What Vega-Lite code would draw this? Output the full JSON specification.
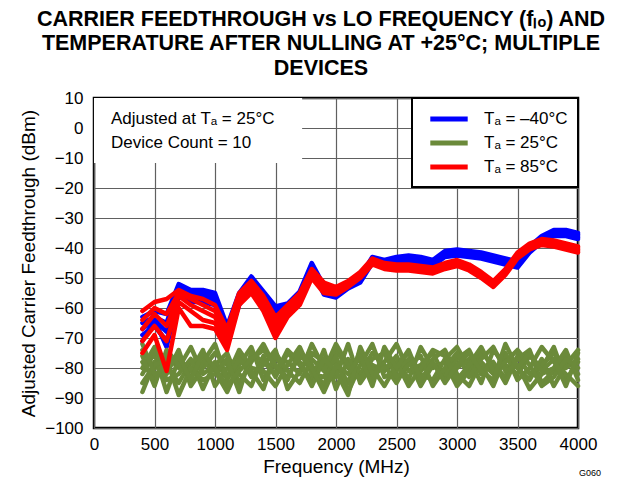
{
"$schema":"https://vega.github.io/schema/vega-lite/v6.json",
"width":484,"height":330,
"autosize":{"type":"none"},
"padding":{"left":94,"top":98,"right":46,"bottom":52},
"background":"white",
"config":{"font":"Liberation Sans","view":{"stroke":"black","strokeWidth":2.5},
"axis":{"labelFont":"Liberation Sans","titleFont":"Liberation Sans","labelFontSize":17,"titleFontSize":19,"titleFontWeight":"normal","labelColor":"black","titleColor":"black","domain":false,"ticks":false,"grid":true,"gridColor":"#606060","gridWidth":1.2,"gridOpacity":1,"labelOverlap":false,"labelBound":false,"labelFlush":false},
"axisX":{"tickCount":9,"labelPadding":8,"titlePadding":5,"format":"d"},
"axisY":{"tickCount":12,"labelPadding":11,"titlePadding":6}},
"title":{"text":["CARRIER FEEDTHROUGH vs LO FREQUENCY (fₗₒ) AND","TEMPERATURE AFTER NULLING AT +25°C; MULTIPLE","DEVICES"],"font":"Liberation Sans","fontSize":21.5,"fontWeight":"bold","lineHeight":24.5,"anchor":"middle","frame":"group","dx":-15,"offset":10,"color":"black"},
"data":{"values":[
{"f":400,"t":"-40","d":"b1","v":-63},{"f":500,"t":"-40","d":"b1","v":-61},{"f":600,"t":"-40","d":"b1","v":-62},{"f":700,"t":"-40","d":"b1","v":-52},{"f":800,"t":"-40","d":"b1","v":-54},{"f":900,"t":"-40","d":"b1","v":-54},{"f":1000,"t":"-40","d":"b1","v":-55},{"f":1100,"t":"-40","d":"b1","v":-66},{"f":1200,"t":"-40","d":"b1","v":-55},{"f":1300,"t":"-40","d":"b1","v":-49.5},{"f":1400,"t":"-40","d":"b1","v":-54.5},{"f":1500,"t":"-40","d":"b1","v":-59.5},{"f":1600,"t":"-40","d":"b1","v":-58.5},{"f":1700,"t":"-40","d":"b1","v":-54.5},{"f":1800,"t":"-40","d":"b1","v":-45},{"f":1900,"t":"-40","d":"b1","v":-52.5},{"f":2000,"t":"-40","d":"b1","v":-53.5},{"f":2100,"t":"-40","d":"b1","v":-51.5},{"f":2200,"t":"-40","d":"b1","v":-49.5},{"f":2300,"t":"-40","d":"b1","v":-43},{"f":2400,"t":"-40","d":"b1","v":-44},{"f":2500,"t":"-40","d":"b1","v":-43},{"f":2600,"t":"-40","d":"b1","v":-42.5},{"f":2700,"t":"-40","d":"b1","v":-43},{"f":2800,"t":"-40","d":"b1","v":-44},{"f":2900,"t":"-40","d":"b1","v":-41},{"f":3000,"t":"-40","d":"b1","v":-40.5},{"f":3100,"t":"-40","d":"b1","v":-41},{"f":3200,"t":"-40","d":"b1","v":-41.5},{"f":3300,"t":"-40","d":"b1","v":-42.5},{"f":3400,"t":"-40","d":"b1","v":-43.5},{"f":3500,"t":"-40","d":"b1","v":-44.5},{"f":3600,"t":"-40","d":"b1","v":-39.5},{"f":3700,"t":"-40","d":"b1","v":-36},{"f":3800,"t":"-40","d":"b1","v":-34},{"f":3900,"t":"-40","d":"b1","v":-34},{"f":4000,"t":"-40","d":"b1","v":-35},
{"f":400,"t":"-40","d":"b2","v":-65},{"f":500,"t":"-40","d":"b2","v":-63},{"f":600,"t":"-40","d":"b2","v":-65},{"f":700,"t":"-40","d":"b2","v":-53},{"f":800,"t":"-40","d":"b2","v":-55},{"f":900,"t":"-40","d":"b2","v":-55},{"f":1000,"t":"-40","d":"b2","v":-56},{"f":1100,"t":"-40","d":"b2","v":-68},{"f":1200,"t":"-40","d":"b2","v":-56},{"f":1300,"t":"-40","d":"b2","v":-50.5},{"f":1400,"t":"-40","d":"b2","v":-55.5},{"f":1500,"t":"-40","d":"b2","v":-60.5},{"f":1600,"t":"-40","d":"b2","v":-59.5},{"f":1700,"t":"-40","d":"b2","v":-55.5},{"f":1800,"t":"-40","d":"b2","v":-45.5},{"f":1900,"t":"-40","d":"b2","v":-53.5},{"f":2000,"t":"-40","d":"b2","v":-54.5},{"f":2100,"t":"-40","d":"b2","v":-52},{"f":2200,"t":"-40","d":"b2","v":-50},{"f":2300,"t":"-40","d":"b2","v":-43.5},{"f":2400,"t":"-40","d":"b2","v":-44.5},{"f":2500,"t":"-40","d":"b2","v":-43.5},{"f":2600,"t":"-40","d":"b2","v":-43},{"f":2700,"t":"-40","d":"b2","v":-43.5},{"f":2800,"t":"-40","d":"b2","v":-44.5},{"f":2900,"t":"-40","d":"b2","v":-41.5},{"f":3000,"t":"-40","d":"b2","v":-41},{"f":3100,"t":"-40","d":"b2","v":-41.5},{"f":3200,"t":"-40","d":"b2","v":-42},{"f":3300,"t":"-40","d":"b2","v":-43},{"f":3400,"t":"-40","d":"b2","v":-44},{"f":3500,"t":"-40","d":"b2","v":-45},{"f":3600,"t":"-40","d":"b2","v":-40},{"f":3700,"t":"-40","d":"b2","v":-36.5},{"f":3800,"t":"-40","d":"b2","v":-34.5},{"f":3900,"t":"-40","d":"b2","v":-34.5},{"f":4000,"t":"-40","d":"b2","v":-35.5},
{"f":400,"t":"-40","d":"b3","v":-67},{"f":500,"t":"-40","d":"b3","v":-64},{"f":600,"t":"-40","d":"b3","v":-68},{"f":700,"t":"-40","d":"b3","v":-54},{"f":800,"t":"-40","d":"b3","v":-56},{"f":900,"t":"-40","d":"b3","v":-56},{"f":1000,"t":"-40","d":"b3","v":-57},{"f":1100,"t":"-40","d":"b3","v":-69},{"f":1200,"t":"-40","d":"b3","v":-57},{"f":1300,"t":"-40","d":"b3","v":-51},{"f":1400,"t":"-40","d":"b3","v":-56},{"f":1500,"t":"-40","d":"b3","v":-61},{"f":1600,"t":"-40","d":"b3","v":-60},{"f":1700,"t":"-40","d":"b3","v":-56},{"f":1800,"t":"-40","d":"b3","v":-46},{"f":1900,"t":"-40","d":"b3","v":-54},{"f":2000,"t":"-40","d":"b3","v":-55},{"f":2100,"t":"-40","d":"b3","v":-52.5},{"f":2200,"t":"-40","d":"b3","v":-50.5},{"f":2300,"t":"-40","d":"b3","v":-44},{"f":2400,"t":"-40","d":"b3","v":-45},{"f":2500,"t":"-40","d":"b3","v":-44},{"f":2600,"t":"-40","d":"b3","v":-43.5},{"f":2700,"t":"-40","d":"b3","v":-44},{"f":2800,"t":"-40","d":"b3","v":-45},{"f":2900,"t":"-40","d":"b3","v":-42},{"f":3000,"t":"-40","d":"b3","v":-41.5},{"f":3100,"t":"-40","d":"b3","v":-42},{"f":3200,"t":"-40","d":"b3","v":-42.5},{"f":3300,"t":"-40","d":"b3","v":-43.5},{"f":3400,"t":"-40","d":"b3","v":-44.5},{"f":3500,"t":"-40","d":"b3","v":-45.5},{"f":3600,"t":"-40","d":"b3","v":-40.5},{"f":3700,"t":"-40","d":"b3","v":-37},{"f":3800,"t":"-40","d":"b3","v":-35},{"f":3900,"t":"-40","d":"b3","v":-35},{"f":4000,"t":"-40","d":"b3","v":-36},
{"f":400,"t":"-40","d":"b4","v":-69},{"f":500,"t":"-40","d":"b4","v":-66},{"f":600,"t":"-40","d":"b4","v":-71},{"f":700,"t":"-40","d":"b4","v":-55},{"f":800,"t":"-40","d":"b4","v":-57},{"f":900,"t":"-40","d":"b4","v":-57},{"f":1000,"t":"-40","d":"b4","v":-58},{"f":1100,"t":"-40","d":"b4","v":-70},{"f":1200,"t":"-40","d":"b4","v":-58},{"f":1300,"t":"-40","d":"b4","v":-51.5},{"f":1400,"t":"-40","d":"b4","v":-56.5},{"f":1500,"t":"-40","d":"b4","v":-61.5},{"f":1600,"t":"-40","d":"b4","v":-60.5},{"f":1700,"t":"-40","d":"b4","v":-56.5},{"f":1800,"t":"-40","d":"b4","v":-46.5},{"f":1900,"t":"-40","d":"b4","v":-54.5},{"f":2000,"t":"-40","d":"b4","v":-55.5},{"f":2100,"t":"-40","d":"b4","v":-53},{"f":2200,"t":"-40","d":"b4","v":-51},{"f":2300,"t":"-40","d":"b4","v":-44.5},{"f":2400,"t":"-40","d":"b4","v":-45.5},{"f":2500,"t":"-40","d":"b4","v":-44.5},{"f":2600,"t":"-40","d":"b4","v":-44},{"f":2700,"t":"-40","d":"b4","v":-44.5},{"f":2800,"t":"-40","d":"b4","v":-45.5},{"f":2900,"t":"-40","d":"b4","v":-42.5},{"f":3000,"t":"-40","d":"b4","v":-42},{"f":3100,"t":"-40","d":"b4","v":-42.5},{"f":3200,"t":"-40","d":"b4","v":-43},{"f":3300,"t":"-40","d":"b4","v":-44},{"f":3400,"t":"-40","d":"b4","v":-45},{"f":3500,"t":"-40","d":"b4","v":-46},{"f":3600,"t":"-40","d":"b4","v":-41},{"f":3700,"t":"-40","d":"b4","v":-37.5},{"f":3800,"t":"-40","d":"b4","v":-35.5},{"f":3900,"t":"-40","d":"b4","v":-35.5},{"f":4000,"t":"-40","d":"b4","v":-36.5},
{"f":400,"t":"-40","d":"b5","v":-71},{"f":500,"t":"-40","d":"b5","v":-64},{"f":600,"t":"-40","d":"b5","v":-73},{"f":700,"t":"-40","d":"b5","v":-56},{"f":800,"t":"-40","d":"b5","v":-58},{"f":900,"t":"-40","d":"b5","v":-58},{"f":1000,"t":"-40","d":"b5","v":-59},{"f":1100,"t":"-40","d":"b5","v":-71},{"f":1200,"t":"-40","d":"b5","v":-59},{"f":1300,"t":"-40","d":"b5","v":-52.5},{"f":1400,"t":"-40","d":"b5","v":-57.5},{"f":1500,"t":"-40","d":"b5","v":-62.5},{"f":1600,"t":"-40","d":"b5","v":-61.5},{"f":1700,"t":"-40","d":"b5","v":-57.5},{"f":1800,"t":"-40","d":"b5","v":-47},{"f":1900,"t":"-40","d":"b5","v":-55.5},{"f":2000,"t":"-40","d":"b5","v":-56.5},{"f":2100,"t":"-40","d":"b5","v":-53.5},{"f":2200,"t":"-40","d":"b5","v":-51.5},{"f":2300,"t":"-40","d":"b5","v":-45},{"f":2400,"t":"-40","d":"b5","v":-46},{"f":2500,"t":"-40","d":"b5","v":-45},{"f":2600,"t":"-40","d":"b5","v":-44.5},{"f":2700,"t":"-40","d":"b5","v":-45},{"f":2800,"t":"-40","d":"b5","v":-46},{"f":2900,"t":"-40","d":"b5","v":-43},{"f":3000,"t":"-40","d":"b5","v":-42.5},{"f":3100,"t":"-40","d":"b5","v":-43},{"f":3200,"t":"-40","d":"b5","v":-43.5},{"f":3300,"t":"-40","d":"b5","v":-44.5},{"f":3400,"t":"-40","d":"b5","v":-45.5},{"f":3500,"t":"-40","d":"b5","v":-46.5},{"f":3600,"t":"-40","d":"b5","v":-41.5},{"f":3700,"t":"-40","d":"b5","v":-38},{"f":3800,"t":"-40","d":"b5","v":-36},{"f":3900,"t":"-40","d":"b5","v":-36},{"f":4000,"t":"-40","d":"b5","v":-37},
{"f":400,"t":"25","d":"g1","v":-78},{"f":500,"t":"25","d":"g1","v":-84},{"f":600,"t":"25","d":"g1","v":-76},{"f":700,"t":"25","d":"g1","v":-80},{"f":800,"t":"25","d":"g1","v":-73},{"f":900,"t":"25","d":"g1","v":-82},{"f":1000,"t":"25","d":"g1","v":-79},{"f":1100,"t":"25","d":"g1","v":-75},{"f":1200,"t":"25","d":"g1","v":-85},{"f":1300,"t":"25","d":"g1","v":-78},{"f":1400,"t":"25","d":"g1","v":-72},{"f":1500,"t":"25","d":"g1","v":-80},{"f":1600,"t":"25","d":"g1","v":-83},{"f":1700,"t":"25","d":"g1","v":-76},{"f":1800,"t":"25","d":"g1","v":-79},{"f":1900,"t":"25","d":"g1","v":-86},{"f":2000,"t":"25","d":"g1","v":-74},{"f":2100,"t":"25","d":"g1","v":-80},{"f":2200,"t":"25","d":"g1","v":-77},{"f":2300,"t":"25","d":"g1","v":-84},{"f":2400,"t":"25","d":"g1","v":-78},{"f":2500,"t":"25","d":"g1","v":-72},{"f":2600,"t":"25","d":"g1","v":-81},{"f":2700,"t":"25","d":"g1","v":-79},{"f":2800,"t":"25","d":"g1","v":-75},{"f":2900,"t":"25","d":"g1","v":-83},{"f":3000,"t":"25","d":"g1","v":-80},{"f":3100,"t":"25","d":"g1","v":-77},{"f":3200,"t":"25","d":"g1","v":-85},{"f":3300,"t":"25","d":"g1","v":-74},{"f":3400,"t":"25","d":"g1","v":-79},{"f":3500,"t":"25","d":"g1","v":-82},{"f":3600,"t":"25","d":"g1","v":-76},{"f":3700,"t":"25","d":"g1","v":-80},{"f":3800,"t":"25","d":"g1","v":-73},{"f":3900,"t":"25","d":"g1","v":-84},{"f":4000,"t":"25","d":"g1","v":-78},
{"f":400,"t":"25","d":"g2","v":-82},{"f":500,"t":"25","d":"g2","v":-75},{"f":600,"t":"25","d":"g2","v":-88},{"f":700,"t":"25","d":"g2","v":-77},{"f":800,"t":"25","d":"g2","v":-81},{"f":900,"t":"25","d":"g2","v":-74},{"f":1000,"t":"25","d":"g2","v":-86},{"f":1100,"t":"25","d":"g2","v":-80},{"f":1200,"t":"25","d":"g2","v":-76},{"f":1300,"t":"25","d":"g2","v":-83},{"f":1400,"t":"25","d":"g2","v":-79},{"f":1500,"t":"25","d":"g2","v":-74},{"f":1600,"t":"25","d":"g2","v":-87},{"f":1700,"t":"25","d":"g2","v":-81},{"f":1800,"t":"25","d":"g2","v":-75},{"f":1900,"t":"25","d":"g2","v":-78},{"f":2000,"t":"25","d":"g2","v":-83},{"f":2100,"t":"25","d":"g2","v":-72},{"f":2200,"t":"25","d":"g2","v":-85},{"f":2300,"t":"25","d":"g2","v":-79},{"f":2400,"t":"25","d":"g2","v":-81},{"f":2500,"t":"25","d":"g2","v":-76},{"f":2600,"t":"25","d":"g2","v":-84},{"f":2700,"t":"25","d":"g2","v":-73},{"f":2800,"t":"25","d":"g2","v":-80},{"f":2900,"t":"25","d":"g2","v":-78},{"f":3000,"t":"25","d":"g2","v":-86},{"f":3100,"t":"25","d":"g2","v":-81},{"f":3200,"t":"25","d":"g2","v":-75},{"f":3300,"t":"25","d":"g2","v":-79},{"f":3400,"t":"25","d":"g2","v":-83},{"f":3500,"t":"25","d":"g2","v":-77},{"f":3600,"t":"25","d":"g2","v":-74},{"f":3700,"t":"25","d":"g2","v":-85},{"f":3800,"t":"25","d":"g2","v":-81},{"f":3900,"t":"25","d":"g2","v":-76},{"f":4000,"t":"25","d":"g2","v":-82},
{"f":400,"t":"25","d":"g3","v":-74},{"f":500,"t":"25","d":"g3","v":-80},{"f":600,"t":"25","d":"g3","v":-79},{"f":700,"t":"25","d":"g3","v":-85},{"f":800,"t":"25","d":"g3","v":-78},{"f":900,"t":"25","d":"g3","v":-76},{"f":1000,"t":"25","d":"g3","v":-81},{"f":1100,"t":"25","d":"g3","v":-88},{"f":1200,"t":"25","d":"g3","v":-79},{"f":1300,"t":"25","d":"g3","v":-73},{"f":1400,"t":"25","d":"g3","v":-84},{"f":1500,"t":"25","d":"g3","v":-77},{"f":1600,"t":"25","d":"g3","v":-78},{"f":1700,"t":"25","d":"g3","v":-82},{"f":1800,"t":"25","d":"g3","v":-72},{"f":1900,"t":"25","d":"g3","v":-80},{"f":2000,"t":"25","d":"g3","v":-78},{"f":2100,"t":"25","d":"g3","v":-85},{"f":2200,"t":"25","d":"g3","v":-74},{"f":2300,"t":"25","d":"g3","v":-80},{"f":2400,"t":"25","d":"g3","v":-86},{"f":2500,"t":"25","d":"g3","v":-79},{"f":2600,"t":"25","d":"g3","v":-75},{"f":2700,"t":"25","d":"g3","v":-82},{"f":2800,"t":"25","d":"g3","v":-84},{"f":2900,"t":"25","d":"g3","v":-77},{"f":3000,"t":"25","d":"g3","v":-73},{"f":3100,"t":"25","d":"g3","v":-80},{"f":3200,"t":"25","d":"g3","v":-79},{"f":3300,"t":"25","d":"g3","v":-86},{"f":3400,"t":"25","d":"g3","v":-76},{"f":3500,"t":"25","d":"g3","v":-80},{"f":3600,"t":"25","d":"g3","v":-84},{"f":3700,"t":"25","d":"g3","v":-77},{"f":3800,"t":"25","d":"g3","v":-86},{"f":3900,"t":"25","d":"g3","v":-79},{"f":4000,"t":"25","d":"g3","v":-74},
{"f":400,"t":"25","d":"g4","v":-88},{"f":500,"t":"25","d":"g4","v":-78},{"f":600,"t":"25","d":"g4","v":-82},{"f":700,"t":"25","d":"g4","v":-74},{"f":800,"t":"25","d":"g4","v":-86},{"f":900,"t":"25","d":"g4","v":-80},{"f":1000,"t":"25","d":"g4","v":-75},{"f":1100,"t":"25","d":"g4","v":-79},{"f":1200,"t":"25","d":"g4","v":-82},{"f":1300,"t":"25","d":"g4","v":-86},{"f":1400,"t":"25","d":"g4","v":-76},{"f":1500,"t":"25","d":"g4","v":-83},{"f":1600,"t":"25","d":"g4","v":-75},{"f":1700,"t":"25","d":"g4","v":-79},{"f":1800,"t":"25","d":"g4","v":-84},{"f":1900,"t":"25","d":"g4","v":-74},{"f":2000,"t":"25","d":"g4","v":-87},{"f":2100,"t":"25","d":"g4","v":-77},{"f":2200,"t":"25","d":"g4","v":-82},{"f":2300,"t":"25","d":"g4","v":-75},{"f":2400,"t":"25","d":"g4","v":-79},{"f":2500,"t":"25","d":"g4","v":-85},{"f":2600,"t":"25","d":"g4","v":-78},{"f":2700,"t":"25","d":"g4","v":-81},{"f":2800,"t":"25","d":"g4","v":-77},{"f":2900,"t":"25","d":"g4","v":-74},{"f":3000,"t":"25","d":"g4","v":-82},{"f":3100,"t":"25","d":"g4","v":-86},{"f":3200,"t":"25","d":"g4","v":-78},{"f":3300,"t":"25","d":"g4","v":-82},{"f":3400,"t":"25","d":"g4","v":-75},{"f":3500,"t":"25","d":"g4","v":-84},{"f":3600,"t":"25","d":"g4","v":-80},{"f":3700,"t":"25","d":"g4","v":-73},{"f":3800,"t":"25","d":"g4","v":-78},{"f":3900,"t":"25","d":"g4","v":-82},{"f":4000,"t":"25","d":"g4","v":-86},
{"f":400,"t":"25","d":"g5","v":-80},{"f":500,"t":"25","d":"g5","v":-73},{"f":600,"t":"25","d":"g5","v":-84},{"f":700,"t":"25","d":"g5","v":-82},{"f":800,"t":"25","d":"g5","v":-77},{"f":900,"t":"25","d":"g5","v":-87},{"f":1000,"t":"25","d":"g5","v":-78},{"f":1100,"t":"25","d":"g5","v":-83},{"f":1200,"t":"25","d":"g5","v":-74},{"f":1300,"t":"25","d":"g5","v":-80},{"f":1400,"t":"25","d":"g5","v":-81},{"f":1500,"t":"25","d":"g5","v":-86},{"f":1600,"t":"25","d":"g5","v":-79},{"f":1700,"t":"25","d":"g5","v":-73},{"f":1800,"t":"25","d":"g5","v":-82},{"f":1900,"t":"25","d":"g5","v":-83},{"f":2000,"t":"25","d":"g5","v":-76},{"f":2100,"t":"25","d":"g5","v":-88},{"f":2200,"t":"25","d":"g5","v":-79},{"f":2300,"t":"25","d":"g5","v":-72},{"f":2400,"t":"25","d":"g5","v":-83},{"f":2500,"t":"25","d":"g5","v":-81},{"f":2600,"t":"25","d":"g5","v":-77},{"f":2700,"t":"25","d":"g5","v":-86},{"f":2800,"t":"25","d":"g5","v":-79},{"f":2900,"t":"25","d":"g5","v":-82},{"f":3000,"t":"25","d":"g5","v":-77},{"f":3100,"t":"25","d":"g5","v":-74},{"f":3200,"t":"25","d":"g5","v":-82},{"f":3300,"t":"25","d":"g5","v":-78},{"f":3400,"t":"25","d":"g5","v":-85},{"f":3500,"t":"25","d":"g5","v":-76},{"f":3600,"t":"25","d":"g5","v":-82},{"f":3700,"t":"25","d":"g5","v":-79},{"f":3800,"t":"25","d":"g5","v":-75},{"f":3900,"t":"25","d":"g5","v":-80},{"f":4000,"t":"25","d":"g5","v":-77},
{"f":400,"t":"25","d":"g6","v":-76},{"f":500,"t":"25","d":"g6","v":-86},{"f":600,"t":"25","d":"g6","v":-74},{"f":700,"t":"25","d":"g6","v":-79},{"f":800,"t":"25","d":"g6","v":-83},{"f":900,"t":"25","d":"g6","v":-78},{"f":1000,"t":"25","d":"g6","v":-72},{"f":1100,"t":"25","d":"g6","v":-84},{"f":1200,"t":"25","d":"g6","v":-77},{"f":1300,"t":"25","d":"g6","v":-81},{"f":1400,"t":"25","d":"g6","v":-87},{"f":1500,"t":"25","d":"g6","v":-75},{"f":1600,"t":"25","d":"g6","v":-81},{"f":1700,"t":"25","d":"g6","v":-85},{"f":1800,"t":"25","d":"g6","v":-77},{"f":1900,"t":"25","d":"g6","v":-81},{"f":2000,"t":"25","d":"g6","v":-72},{"f":2100,"t":"25","d":"g6","v":-79},{"f":2200,"t":"25","d":"g6","v":-84},{"f":2300,"t":"25","d":"g6","v":-77},{"f":2400,"t":"25","d":"g6","v":-75},{"f":2500,"t":"25","d":"g6","v":-83},{"f":2600,"t":"25","d":"g6","v":-79},{"f":2700,"t":"25","d":"g6","v":-76},{"f":2800,"t":"25","d":"g6","v":-86},{"f":2900,"t":"25","d":"g6","v":-80},{"f":3000,"t":"25","d":"g6","v":-75},{"f":3100,"t":"25","d":"g6","v":-83},{"f":3200,"t":"25","d":"g6","v":-77},{"f":3300,"t":"25","d":"g6","v":-73},{"f":3400,"t":"25","d":"g6","v":-81},{"f":3500,"t":"25","d":"g6","v":-79},{"f":3600,"t":"25","d":"g6","v":-87},{"f":3700,"t":"25","d":"g6","v":-82},{"f":3800,"t":"25","d":"g6","v":-80},{"f":3900,"t":"25","d":"g6","v":-74},{"f":4000,"t":"25","d":"g6","v":-84},
{"f":400,"t":"25","d":"g7","v":-85},{"f":500,"t":"25","d":"g7","v":-79},{"f":600,"t":"25","d":"g7","v":-77},{"f":700,"t":"25","d":"g7","v":-89},{"f":800,"t":"25","d":"g7","v":-80},{"f":900,"t":"25","d":"g7","v":-84},{"f":1000,"t":"25","d":"g7","v":-82},{"f":1100,"t":"25","d":"g7","v":-77},{"f":1200,"t":"25","d":"g7","v":-88},{"f":1300,"t":"25","d":"g7","v":-75},{"f":1400,"t":"25","d":"g7","v":-78},{"f":1500,"t":"25","d":"g7","v":-82},{"f":1600,"t":"25","d":"g7","v":-74},{"f":1700,"t":"25","d":"g7","v":-78},{"f":1800,"t":"25","d":"g7","v":-86},{"f":1900,"t":"25","d":"g7","v":-77},{"f":2000,"t":"25","d":"g7","v":-81},{"f":2100,"t":"25","d":"g7","v":-89},{"f":2200,"t":"25","d":"g7","v":-73},{"f":2300,"t":"25","d":"g7","v":-82},{"f":2400,"t":"25","d":"g7","v":-80},{"f":2500,"t":"25","d":"g7","v":-78},{"f":2600,"t":"25","d":"g7","v":-86},{"f":2700,"t":"25","d":"g7","v":-80},{"f":2800,"t":"25","d":"g7","v":-74},{"f":2900,"t":"25","d":"g7","v":-76},{"f":3000,"t":"25","d":"g7","v":-84},{"f":3100,"t":"25","d":"g7","v":-79},{"f":3200,"t":"25","d":"g7","v":-73},{"f":3300,"t":"25","d":"g7","v":-81},{"f":3400,"t":"25","d":"g7","v":-78},{"f":3500,"t":"25","d":"g7","v":-74},{"f":3600,"t":"25","d":"g7","v":-79},{"f":3700,"t":"25","d":"g7","v":-86},{"f":3800,"t":"25","d":"g7","v":-83},{"f":3900,"t":"25","d":"g7","v":-77},{"f":4000,"t":"25","d":"g7","v":-80},
{"f":400,"t":"25","d":"g8","v":-72},{"f":500,"t":"25","d":"g8","v":-82},{"f":600,"t":"25","d":"g8","v":-80},{"f":700,"t":"25","d":"g8","v":-76},{"f":800,"t":"25","d":"g8","v":-84},{"f":900,"t":"25","d":"g8","v":-75},{"f":1000,"t":"25","d":"g8","v":-80},{"f":1100,"t":"25","d":"g8","v":-86},{"f":1200,"t":"25","d":"g8","v":-81},{"f":1300,"t":"25","d":"g8","v":-77},{"f":1400,"t":"25","d":"g8","v":-74},{"f":1500,"t":"25","d":"g8","v":-79},{"f":1600,"t":"25","d":"g8","v":-84},{"f":1700,"t":"25","d":"g8","v":-74},{"f":1800,"t":"25","d":"g8","v":-80},{"f":1900,"t":"25","d":"g8","v":-88},{"f":2000,"t":"25","d":"g8","v":-79},{"f":2100,"t":"25","d":"g8","v":-82},{"f":2200,"t":"25","d":"g8","v":-76},{"f":2300,"t":"25","d":"g8","v":-86},{"f":2400,"t":"25","d":"g8","v":-73},{"f":2500,"t":"25","d":"g8","v":-80},{"f":2600,"t":"25","d":"g8","v":-74},{"f":2700,"t":"25","d":"g8","v":-84},{"f":2800,"t":"25","d":"g8","v":-78},{"f":2900,"t":"25","d":"g8","v":-85},{"f":3000,"t":"25","d":"g8","v":-79},{"f":3100,"t":"25","d":"g8","v":-75},{"f":3200,"t":"25","d":"g8","v":-81},{"f":3300,"t":"25","d":"g8","v":-84},{"f":3400,"t":"25","d":"g8","v":-72},{"f":3500,"t":"25","d":"g8","v":-80},{"f":3600,"t":"25","d":"g8","v":-75},{"f":3700,"t":"25","d":"g8","v":-81},{"f":3800,"t":"25","d":"g8","v":-77},{"f":3900,"t":"25","d":"g8","v":-86},{"f":4000,"t":"25","d":"g8","v":-75},
{"f":400,"t":"85","d":"r1","v":-61},{"f":500,"t":"85","d":"r1","v":-58},{"f":600,"t":"85","d":"r1","v":-57},{"f":700,"t":"85","d":"r1","v":-54},{"f":800,"t":"85","d":"r1","v":-56},{"f":900,"t":"85","d":"r1","v":-57},{"f":1000,"t":"85","d":"r1","v":-59},{"f":1100,"t":"85","d":"r1","v":-67},{"f":1200,"t":"85","d":"r1","v":-55},{"f":1300,"t":"85","d":"r1","v":-51},{"f":1400,"t":"85","d":"r1","v":-56},{"f":1500,"t":"85","d":"r1","v":-63},{"f":1600,"t":"85","d":"r1","v":-59},{"f":1700,"t":"85","d":"r1","v":-55},{"f":1800,"t":"85","d":"r1","v":-47},{"f":1900,"t":"85","d":"r1","v":-51.5},{"f":2000,"t":"85","d":"r1","v":-53},{"f":2100,"t":"85","d":"r1","v":-51},{"f":2200,"t":"85","d":"r1","v":-48},{"f":2300,"t":"85","d":"r1","v":-43.5},{"f":2400,"t":"85","d":"r1","v":-45},{"f":2500,"t":"85","d":"r1","v":-45.5},{"f":2600,"t":"85","d":"r1","v":-45.5},{"f":2700,"t":"85","d":"r1","v":-46},{"f":2800,"t":"85","d":"r1","v":-46.5},{"f":2900,"t":"85","d":"r1","v":-45},{"f":3000,"t":"85","d":"r1","v":-44},{"f":3100,"t":"85","d":"r1","v":-45.5},{"f":3200,"t":"85","d":"r1","v":-48},{"f":3300,"t":"85","d":"r1","v":-51},{"f":3400,"t":"85","d":"r1","v":-47},{"f":3500,"t":"85","d":"r1","v":-41.5},{"f":3600,"t":"85","d":"r1","v":-38.5},{"f":3700,"t":"85","d":"r1","v":-37},{"f":3800,"t":"85","d":"r1","v":-37.5},{"f":3900,"t":"85","d":"r1","v":-38.5},{"f":4000,"t":"85","d":"r1","v":-39.5},
{"f":400,"t":"85","d":"r2","v":-64},{"f":500,"t":"85","d":"r2","v":-60},{"f":600,"t":"85","d":"r2","v":-62},{"f":700,"t":"85","d":"r2","v":-55},{"f":800,"t":"85","d":"r2","v":-57},{"f":900,"t":"85","d":"r2","v":-59},{"f":1000,"t":"85","d":"r2","v":-61},{"f":1100,"t":"85","d":"r2","v":-69},{"f":1200,"t":"85","d":"r2","v":-56},{"f":1300,"t":"85","d":"r2","v":-52},{"f":1400,"t":"85","d":"r2","v":-57},{"f":1500,"t":"85","d":"r2","v":-65},{"f":1600,"t":"85","d":"r2","v":-60},{"f":1700,"t":"85","d":"r2","v":-56},{"f":1800,"t":"85","d":"r2","v":-47.5},{"f":1900,"t":"85","d":"r2","v":-52.5},{"f":2000,"t":"85","d":"r2","v":-54},{"f":2100,"t":"85","d":"r2","v":-51.5},{"f":2200,"t":"85","d":"r2","v":-48.5},{"f":2300,"t":"85","d":"r2","v":-44},{"f":2400,"t":"85","d":"r2","v":-45.5},{"f":2500,"t":"85","d":"r2","v":-46},{"f":2600,"t":"85","d":"r2","v":-46},{"f":2700,"t":"85","d":"r2","v":-46.5},{"f":2800,"t":"85","d":"r2","v":-47},{"f":2900,"t":"85","d":"r2","v":-45.5},{"f":3000,"t":"85","d":"r2","v":-44.5},{"f":3100,"t":"85","d":"r2","v":-46},{"f":3200,"t":"85","d":"r2","v":-48.5},{"f":3300,"t":"85","d":"r2","v":-51.5},{"f":3400,"t":"85","d":"r2","v":-47.5},{"f":3500,"t":"85","d":"r2","v":-42},{"f":3600,"t":"85","d":"r2","v":-39},{"f":3700,"t":"85","d":"r2","v":-37.5},{"f":3800,"t":"85","d":"r2","v":-38},{"f":3900,"t":"85","d":"r2","v":-39},{"f":4000,"t":"85","d":"r2","v":-40},
{"f":400,"t":"85","d":"r3","v":-67},{"f":500,"t":"85","d":"r3","v":-62},{"f":600,"t":"85","d":"r3","v":-66},{"f":700,"t":"85","d":"r3","v":-56},{"f":800,"t":"85","d":"r3","v":-59},{"f":900,"t":"85","d":"r3","v":-61},{"f":1000,"t":"85","d":"r3","v":-63},{"f":1100,"t":"85","d":"r3","v":-71},{"f":1200,"t":"85","d":"r3","v":-57},{"f":1300,"t":"85","d":"r3","v":-53},{"f":1400,"t":"85","d":"r3","v":-58},{"f":1500,"t":"85","d":"r3","v":-66},{"f":1600,"t":"85","d":"r3","v":-61},{"f":1700,"t":"85","d":"r3","v":-57},{"f":1800,"t":"85","d":"r3","v":-48},{"f":1900,"t":"85","d":"r3","v":-53},{"f":2000,"t":"85","d":"r3","v":-54.5},{"f":2100,"t":"85","d":"r3","v":-52},{"f":2200,"t":"85","d":"r3","v":-49},{"f":2300,"t":"85","d":"r3","v":-44.5},{"f":2400,"t":"85","d":"r3","v":-46},{"f":2500,"t":"85","d":"r3","v":-46.5},{"f":2600,"t":"85","d":"r3","v":-46.5},{"f":2700,"t":"85","d":"r3","v":-47},{"f":2800,"t":"85","d":"r3","v":-47.5},{"f":2900,"t":"85","d":"r3","v":-46},{"f":3000,"t":"85","d":"r3","v":-45},{"f":3100,"t":"85","d":"r3","v":-46.5},{"f":3200,"t":"85","d":"r3","v":-49},{"f":3300,"t":"85","d":"r3","v":-52},{"f":3400,"t":"85","d":"r3","v":-48},{"f":3500,"t":"85","d":"r3","v":-42.5},{"f":3600,"t":"85","d":"r3","v":-39.5},{"f":3700,"t":"85","d":"r3","v":-38},{"f":3800,"t":"85","d":"r3","v":-38.5},{"f":3900,"t":"85","d":"r3","v":-39.5},{"f":4000,"t":"85","d":"r3","v":-40.5},
{"f":400,"t":"85","d":"r4","v":-71},{"f":500,"t":"85","d":"r4","v":-66},{"f":600,"t":"85","d":"r4","v":-71},{"f":700,"t":"85","d":"r4","v":-58},{"f":800,"t":"85","d":"r4","v":-61},{"f":900,"t":"85","d":"r4","v":-64},{"f":1000,"t":"85","d":"r4","v":-65},{"f":1100,"t":"85","d":"r4","v":-73},{"f":1200,"t":"85","d":"r4","v":-58},{"f":1300,"t":"85","d":"r4","v":-54},{"f":1400,"t":"85","d":"r4","v":-60},{"f":1500,"t":"85","d":"r4","v":-68},{"f":1600,"t":"85","d":"r4","v":-62},{"f":1700,"t":"85","d":"r4","v":-58},{"f":1800,"t":"85","d":"r4","v":-49},{"f":1900,"t":"85","d":"r4","v":-54},{"f":2000,"t":"85","d":"r4","v":-55},{"f":2100,"t":"85","d":"r4","v":-52.5},{"f":2200,"t":"85","d":"r4","v":-49.5},{"f":2300,"t":"85","d":"r4","v":-45},{"f":2400,"t":"85","d":"r4","v":-46.5},{"f":2500,"t":"85","d":"r4","v":-47},{"f":2600,"t":"85","d":"r4","v":-47},{"f":2700,"t":"85","d":"r4","v":-47.5},{"f":2800,"t":"85","d":"r4","v":-48},{"f":2900,"t":"85","d":"r4","v":-46.5},{"f":3000,"t":"85","d":"r4","v":-45.5},{"f":3100,"t":"85","d":"r4","v":-47},{"f":3200,"t":"85","d":"r4","v":-49.5},{"f":3300,"t":"85","d":"r4","v":-52.5},{"f":3400,"t":"85","d":"r4","v":-48.5},{"f":3500,"t":"85","d":"r4","v":-43},{"f":3600,"t":"85","d":"r4","v":-40},{"f":3700,"t":"85","d":"r4","v":-38.5},{"f":3800,"t":"85","d":"r4","v":-39},{"f":3900,"t":"85","d":"r4","v":-40},{"f":4000,"t":"85","d":"r4","v":-41},
{"f":400,"t":"85","d":"r5","v":-75},{"f":500,"t":"85","d":"r5","v":-69},{"f":600,"t":"85","d":"r5","v":-81},{"f":700,"t":"85","d":"r5","v":-60},{"f":800,"t":"85","d":"r5","v":-66},{"f":900,"t":"85","d":"r5","v":-66},{"f":1000,"t":"85","d":"r5","v":-67},{"f":1100,"t":"85","d":"r5","v":-74},{"f":1200,"t":"85","d":"r5","v":-59},{"f":1300,"t":"85","d":"r5","v":-55},{"f":1400,"t":"85","d":"r5","v":-61},{"f":1500,"t":"85","d":"r5","v":-70},{"f":1600,"t":"85","d":"r5","v":-63},{"f":1700,"t":"85","d":"r5","v":-59},{"f":1800,"t":"85","d":"r5","v":-50},{"f":1900,"t":"85","d":"r5","v":-55},{"f":2000,"t":"85","d":"r5","v":-55.5},{"f":2100,"t":"85","d":"r5","v":-53},{"f":2200,"t":"85","d":"r5","v":-50},{"f":2300,"t":"85","d":"r5","v":-45.5},{"f":2400,"t":"85","d":"r5","v":-47},{"f":2500,"t":"85","d":"r5","v":-47.5},{"f":2600,"t":"85","d":"r5","v":-47.5},{"f":2700,"t":"85","d":"r5","v":-48},{"f":2800,"t":"85","d":"r5","v":-48.5},{"f":2900,"t":"85","d":"r5","v":-47},{"f":3000,"t":"85","d":"r5","v":-46},{"f":3100,"t":"85","d":"r5","v":-47.5},{"f":3200,"t":"85","d":"r5","v":-50},{"f":3300,"t":"85","d":"r5","v":-53},{"f":3400,"t":"85","d":"r5","v":-49},{"f":3500,"t":"85","d":"r5","v":-43.5},{"f":3600,"t":"85","d":"r5","v":-40.5},{"f":3700,"t":"85","d":"r5","v":-39},{"f":3800,"t":"85","d":"r5","v":-39.5},{"f":3900,"t":"85","d":"r5","v":-40.5},{"f":4000,"t":"85","d":"r5","v":-41.5}
]},
"layer":[
{"mark":{"type":"line","strokeWidth":4.5,"strokeJoin":"round","strokeCap":"round"},
 "encoding":{
  "x":{"field":"f","type":"quantitative","scale":{"domain":[0,4000],"nice":false},"axis":{"values":[0,500,1000,1500,2000,2500,3000,3500,4000],"tickCount":9,"grid":true,"title":"Frequency (MHz)"}},
  "y":{"field":"v","type":"quantitative","scale":{"domain":[-100,10],"nice":false},"axis":{"values":[-100,-90,-80,-70,-60,-50,-40,-30,-20,-10,0,10],"tickCount":12,"grid":true,"title":"Adjusted Carrier Feedthrough (dBm)"}},
  "detail":{"field":"d"},
  "color":{"field":"t","type":"nominal","scale":{"domain":["-40","25","85"],"range":["#0000ff","#6b8a3a","#ff0000"]},
   "legend":{"title":null,"orient":"top-right","offset":0,"fillColor":"white","strokeColor":"black","padding":10,"labelFont":"Liberation Sans","labelFontSize":17,"labelColor":"black","symbolType":"M-2.2,0H2.2","symbolSize":289,"symbolStrokeWidth":5,"symbolOffset":16,"labelOffset":24,"rowPadding":3,
    "labelExpr":"'Tₐ = ' + (datum.value == '-40' ? '–40' : datum.value) + '°C'",
    "encode":{"legend":{"update":{"strokeWidth":{"value":2}}}}}}}},
{"data":{"values":[{}]},"mark":{"type":"rect","fill":"white"},
 "encoding":{"x":{"datum":0,"type":"quantitative","axis":{"values":[0,500,1000,1500,2000,2500,3000,3500,4000],"tickCount":9,"grid":true,"title":"Frequency (MHz)"}},"x2":{"datum":1720},"y":{"datum":10,"type":"quantitative","axis":{"values":[-100,-90,-80,-70,-60,-50,-40,-30,-20,-10,0,10],"tickCount":12,"grid":true,"title":"Adjusted Carrier Feedthrough (dBm)"}},"y2":{"datum":-11.7}}},
{"data":{"values":[{}]},"mark":{"type":"text","align":"left","baseline":"alphabetic","fontSize":17,"font":"Liberation Sans","color":"black"},
 "encoding":{"x":{"datum":140,"type":"quantitative","axis":{"values":[0,500,1000,1500,2000,2500,3000,3500,4000],"tickCount":9,"grid":true,"title":"Frequency (MHz)"}},"y":{"datum":1.3,"type":"quantitative","axis":{"values":[-100,-90,-80,-70,-60,-50,-40,-30,-20,-10,0,10],"tickCount":12,"grid":true,"title":"Adjusted Carrier Feedthrough (dBm)"}},"text":{"value":"Adjusted at Tₐ = 25°C"}}},
{"data":{"values":[{}]},"mark":{"type":"text","align":"left","baseline":"alphabetic","fontSize":17,"font":"Liberation Sans","color":"black"},
 "encoding":{"x":{"datum":140,"type":"quantitative","axis":{"values":[0,500,1000,1500,2000,2500,3000,3500,4000],"tickCount":9,"grid":true,"title":"Frequency (MHz)"}},"y":{"datum":-6.7,"type":"quantitative","axis":{"values":[-100,-90,-80,-70,-60,-50,-40,-30,-20,-10,0,10],"tickCount":12,"grid":true,"title":"Adjusted Carrier Feedthrough (dBm)"}},"text":{"value":"Device Count = 10"}}},
{"data":{"values":[{}]},"mark":{"type":"text","align":"center","baseline":"middle","fontSize":9,"font":"Liberation Sans","color":"black"},
 "encoding":{"x":{"datum":4100,"type":"quantitative","axis":{"values":[0,500,1000,1500,2000,2500,3000,3500,4000],"tickCount":9,"grid":true,"title":"Frequency (MHz)"}},"y":{"datum":-115,"type":"quantitative","axis":{"values":[-100,-90,-80,-70,-60,-50,-40,-30,-20,-10,0,10],"tickCount":12,"grid":true,"title":"Adjusted Carrier Feedthrough (dBm)"}},"text":{"value":"G060"}}}
]
}
